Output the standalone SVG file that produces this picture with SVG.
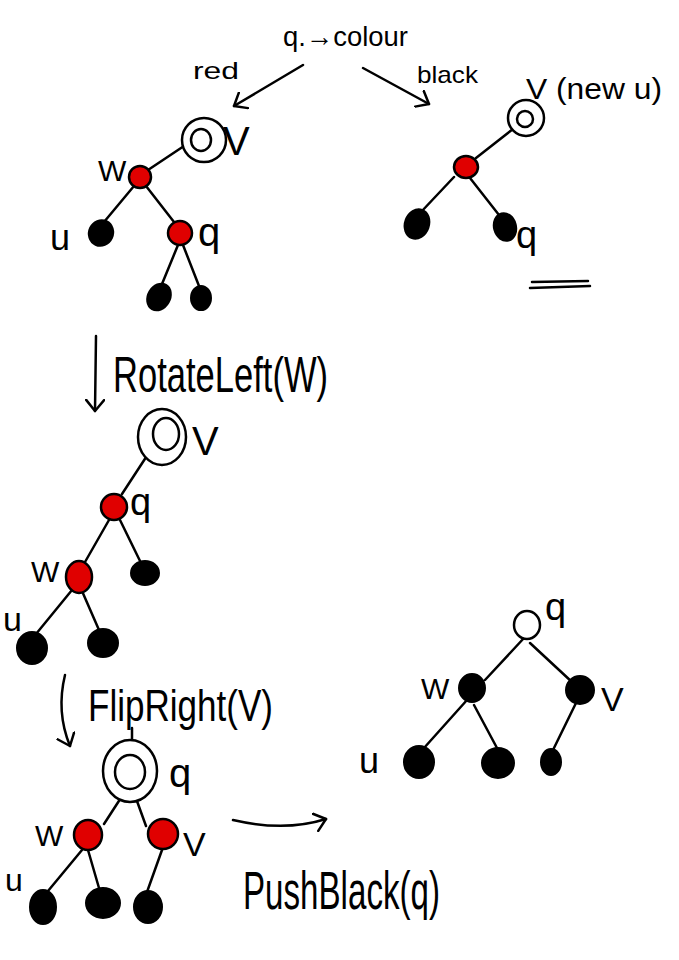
<svg xmlns="http://www.w3.org/2000/svg" width="679" height="960" viewBox="0 0 679 960">
<style>
.e{stroke:#000;stroke-width:2.5;fill:none;stroke-linecap:round;stroke-linejoin:round}
.r{fill:#e00000;stroke:#000;stroke-width:2.5}
.b{fill:#000;stroke:#000;stroke-width:2}
.o{fill:#fff;stroke:#000;stroke-width:2.5}
.t{font-family:"Liberation Sans","DejaVu Sans",sans-serif;fill:#000}
</style>
<defs>
<marker id="ah" viewBox="-12 -10 14 20" refX="0" refY="0" markerWidth="14" markerHeight="20" markerUnits="userSpaceOnUse" orient="auto">
<path d="M-11,-9 L0,0 L-11,9" fill="none" stroke="#000" stroke-width="2.5" stroke-linecap="round" stroke-linejoin="round"/>
</marker>
</defs>
<rect width="679" height="960" fill="#fff"/>
<g id="connectors">
<path class="e" d="M303,65 L234,106" marker-end="url(#ah)"/>
<path class="e" d="M363,68 L429,104" marker-end="url(#ah)"/>
<path class="e" d="M96,336 L95,411" marker-end="url(#ah)"/>
<path class="e" d="M65,675 Q56,712 70,746" marker-end="url(#ah)"/>
<path class="e" d="M233,820 Q285,832 326,819" marker-end="url(#ah)"/>
<path class="e" d="M530,288 L590,286 M532,282 L588,281"/>
<path class="e" d="M190,142 L148,170 M134,186 L104,222 M146,186 L174,222 M178,245 L162,284 M183,245 L199,286"/>
<path class="e" d="M522,122 L476,158 M454,177 L421,212 M470,178 L499,215"/>
<path class="e" d="M154,445 L122,494 M109,520 L85,562 M120,520 L141,563 M72,590 L36,634 M82,591 L99,630"/>
<path class="e" d="M132,742 L132,728 M126,790 L104,824 M133,790 L146,826 M82,850 L48,891 M88,850 L99,888 M162,850 L147,892"/>
<path class="e" d="M524,638 L485,680 M530,643 L572,682 M467,700 L424,748 M474,705 L497,748 M576,703 L553,750"/>
</g>
<g id="tree1">
<g id="t1-v"><ellipse class="o" cx="204" cy="140" rx="22" ry="22"/><ellipse class="o" cx="201" cy="140" rx="10" ry="11"/><text class="t" x="223" y="155" font-size="40">V</text></g>
<g id="t1-w"><circle class="r" cx="140" cy="177" r="11"/><text class="t" x="98" y="181" font-size="30">W</text></g>
<g id="t1-u"><ellipse class="b" cx="101" cy="233" rx="12" ry="13" transform="rotate(25 101 233)"/><text class="t" x="50" y="250" font-size="36">u</text></g>
<g id="t1-q"><circle class="r" cx="180" cy="233" r="12"/><text class="t" x="198" y="246" font-size="40">q</text></g>
<g id="t1-c1"><ellipse class="b" cx="159" cy="297" rx="11" ry="14" transform="rotate(30 159 297)"/></g>
<g id="t1-c2"><ellipse class="b" cx="201" cy="298" rx="10" ry="12"/></g>
</g>
<g id="tree2">
<g id="t2-v"><circle class="o" cx="526" cy="118" r="18"/><circle class="o" cx="525" cy="119" r="8"/><text class="t" x="526" y="99" font-size="30" textLength="136" lengthAdjust="spacingAndGlyphs">V (new u)</text></g>
<g id="t2-r"><ellipse class="r" cx="466" cy="167" rx="12" ry="11"/></g>
<g id="t2-u"><ellipse class="b" cx="417" cy="224" rx="12" ry="15" transform="rotate(20 417 224)"/></g>
<g id="t2-q"><ellipse class="b" cx="505" cy="227" rx="11" ry="14" transform="rotate(-15 505 227)"/><text class="t" x="516" y="248" font-size="38">q</text></g>
</g>
<g id="tree3">
<g id="t3-v"><ellipse class="o" cx="162" cy="437" rx="24" ry="28"/><ellipse class="o" cx="166" cy="434" rx="13" ry="16"/><text class="t" x="192" y="455" font-size="40">V</text></g>
<g id="t3-q"><circle class="r" cx="114" cy="507" r="13"/><text class="t" x="130" y="515" font-size="38">q</text></g>
<g id="t3-w"><ellipse class="r" cx="79" cy="577" rx="13" ry="16"/><text class="t" x="31" y="582" font-size="30">W</text></g>
<g id="t3-c"><ellipse class="b" cx="145" cy="573" rx="14" ry="12"/></g>
<g id="t3-u"><ellipse class="b" cx="32" cy="648" rx="15" ry="16"/><text class="t" x="3" y="631" font-size="34">u</text></g>
<g id="t3-c2"><ellipse class="b" cx="103" cy="643" rx="15" ry="14"/></g>
</g>
<g id="tree4">
<g id="t4-q"><ellipse class="o" cx="130" cy="771" rx="27" ry="31"/><ellipse class="o" cx="130" cy="772" rx="15" ry="17"/><text class="t" x="169" y="787" font-size="40">q</text></g>
<g id="t4-w"><ellipse class="r" cx="88" cy="835" rx="14" ry="15"/><text class="t" x="35" y="846" font-size="30">W</text></g>
<g id="t4-v"><ellipse class="r" cx="163" cy="834" rx="15" ry="15"/><text class="t" x="183" y="856" font-size="34">V</text></g>
<g id="t4-u"><ellipse class="b" cx="43" cy="907" rx="13" ry="17"/><text class="t" x="5" y="891" font-size="32">u</text></g>
<g id="t4-c"><ellipse class="b" cx="103" cy="903" rx="17" ry="15"/></g>
<g id="t4-c2"><ellipse class="b" cx="148" cy="907" rx="14" ry="16"/></g>
</g>
<g id="tree5">
<g id="t5-q"><ellipse class="o" cx="527" cy="625" rx="13" ry="14"/><text class="t" x="545" y="620" font-size="38">q</text></g>
<g id="t5-w"><ellipse class="b" cx="472" cy="688" rx="13" ry="14"/><text class="t" x="421" y="699" font-size="30">W</text></g>
<g id="t5-v"><ellipse class="b" cx="580" cy="690" rx="14" ry="14"/><text class="t" x="601" y="711" font-size="34">V</text></g>
<g id="t5-u"><ellipse class="b" cx="419" cy="762" rx="15" ry="16"/><text class="t" x="359" y="773" font-size="36">u</text></g>
<g id="t5-c"><ellipse class="b" cx="498" cy="763" rx="16" ry="15"/></g>
<g id="t5-c2"><ellipse class="b" cx="551" cy="762" rx="10" ry="13"/></g>
</g>
<g id="labels">
<text class="t" x="283" y="46" font-size="28" textLength="125" lengthAdjust="spacingAndGlyphs">q.→colour</text>
<text class="t" x="193" y="79" font-size="24" textLength="46" lengthAdjust="spacingAndGlyphs">red</text>
<text class="t" x="417" y="83" font-size="24" textLength="61" lengthAdjust="spacingAndGlyphs">black</text>
<text class="t" x="113" y="392" font-size="50" textLength="215" lengthAdjust="spacingAndGlyphs">RotateLeft(W)</text>
<text class="t" x="88" y="721" font-size="44" textLength="185" lengthAdjust="spacingAndGlyphs">FlipRight(V)</text>
<text class="t" x="243" y="909" font-size="54" textLength="197" lengthAdjust="spacingAndGlyphs">PushBlack(q)</text>
</g>
</svg>
